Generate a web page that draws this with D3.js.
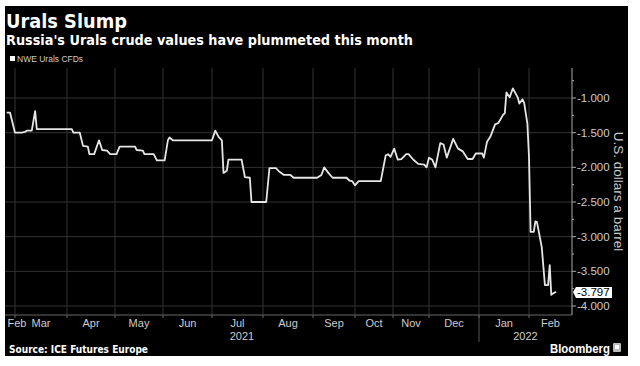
<!DOCTYPE html>
<html><head><meta charset="utf-8">
<script src="https://cdn.jsdelivr.net/npm/d3@7"></script>
<style>body{margin:0;background:#fff} svg{display:block}</style>
</head><body>
<script>
const title = "Urals Slump";
const subtitle = "Russia's Urals crude values have plummeted this month";
const seriesName = "NWE Urals CFDs";
const sourceText = "Source: ICE Futures Europe";
const brand = "Bloomberg";
const yAxisTitle = "U.S. dollars a barrel";

const dates = [
 "2021-02-24","2021-02-26","2021-03-01","2021-03-05","2021-03-07","2021-03-08","2021-03-11","2021-03-13","2021-03-14",
 "2021-04-04","2021-04-05","2021-04-09","2021-04-11","2021-04-14","2021-04-15","2021-04-18","2021-04-21","2021-04-23","2021-04-26","2021-04-28",
 "2021-05-02","2021-05-04","2021-05-14","2021-05-15","2021-05-19","2021-05-20","2021-05-26","2021-05-28",
 "2021-06-02","2021-06-04","2021-06-05","2021-06-07",
 "2021-07-01","2021-07-03","2021-07-05","2021-07-07","2021-07-08","2021-07-10","2021-07-11","2021-07-19","2021-07-21","2021-07-24","2021-07-25",
 "2021-08-03","2021-08-05","2021-08-09","2021-08-11","2021-08-14","2021-08-18","2021-08-20",
 "2021-09-04","2021-09-07","2021-09-09","2021-09-12","2021-09-15","2021-09-25","2021-09-27","2021-09-29",
 "2021-10-01","2021-10-04","2021-10-22","2021-10-26","2021-10-28","2021-10-30",
 "2021-11-02","2021-11-05","2021-11-08","2021-11-12","2021-11-14","2021-11-18","2021-11-22","2021-11-27","2021-11-29",
 "2021-12-01","2021-12-03","2021-12-05","2021-12-08","2021-12-10","2021-12-12","2021-12-16","2021-12-19","2021-12-22","2021-12-25","2021-12-28","2021-12-30",
 "2022-01-03","2022-01-04","2022-01-06","2022-01-08","2022-01-11","2022-01-13","2022-01-16","2022-01-17","2022-01-18","2022-01-20","2022-01-22","2022-01-25","2022-01-26","2022-01-28","2022-01-29","2022-01-31",
 "2022-02-01","2022-02-02","2022-02-04","2022-02-05","2022-02-06","2022-02-09","2022-02-11","2022-02-13","2022-02-14","2022-02-15","2022-02-16","2022-02-18"
];
const values = [
 -1.21,-1.21,-1.50,-1.50,-1.49,-1.47,-1.47,-1.19,-1.45,
 -1.45,-1.50,-1.50,-1.69,-1.70,-1.81,-1.81,-1.61,-1.75,-1.76,-1.81,
 -1.81,-1.70,-1.70,-1.75,-1.76,-1.81,-1.81,-1.90,
 -1.90,-1.61,-1.57,-1.61,
 -1.61,-1.47,-1.56,-1.61,-2.08,-2.05,-1.89,-1.89,-2.14,-2.15,-2.50,
 -2.50,-2.01,-2.01,-2.06,-2.11,-2.11,-2.15,
 -2.15,-2.11,-2.00,-2.08,-2.15,-2.15,-2.19,-2.20,
 -2.26,-2.20,-2.20,-1.83,-1.81,-1.85,
 -1.73,-1.89,-1.88,-1.81,-1.81,-1.89,-1.95,-1.96,-2.00,
 -1.86,-1.89,-2.00,-1.65,-1.67,-1.86,-1.59,-1.73,-1.77,-1.88,-1.88,-1.80,
 -1.80,-1.86,-1.63,-1.56,-1.38,-1.36,-1.24,-1.22,-0.92,-0.99,-0.86,-0.99,-1.08,-1.02,-1.07,-1.37,
 -1.85,-2.93,-2.93,-2.78,-2.79,-3.15,-3.70,-3.70,-3.41,-3.84,-3.82,-3.797
];
const yTicks = [-1.0,-1.5,-2.0,-2.5,-3.0,-3.5,-4.0];
const yMinorTicks = [-0.75,-1.25,-1.75,-2.25,-2.75,-3.25,-3.75];
const monthStarts = ["2021-02-01","2021-03-01","2021-04-01","2021-05-01","2021-06-01","2021-07-01","2021-08-01","2021-09-01","2021-10-01","2021-11-01","2021-12-01","2022-01-01","2022-02-01","2022-03-01"];
const monthLabels = ["Feb","Mar","Apr","May","Jun","Jul","Aug","Sep","Oct","Nov","Dec","Jan","Feb"];
const yearLabels = ["2021","2022"];
const lastLabel = "-3.797";

// axis calibration (time scale breakpoints measured from the chart)
const xDomainStops = ["2021-02-23","2021-03-01","2021-04-01","2021-05-01","2021-06-01","2021-07-01","2021-08-01","2021-09-01","2021-10-01","2021-11-01","2021-12-01","2022-01-01","2022-02-01","2022-02-28"];
const xRangeStops = [5,15,67,115,163,212,263,313,355,393,429,479,529,572];

const W = 640, H = 366;
const svg = d3.select("body").append("svg").attr("width", W).attr("height", H);
svg.append("rect").attr("x",0).attr("y",0).attr("width",W).attr("height",H).attr("fill","#fff");
svg.append("rect").attr("x",5).attr("y",6).attr("width",623).attr("height",350).attr("fill","#000");

const parse = d3.utcParse("%Y-%m-%d");
const x = d3.scaleUtc().domain(xDomainStops.map(parse)).range(xRangeStops);
const plotLeft = 5, plotRight = 572, plotTop = 68, plotBottom = 315;
const y = d3.scaleLinear().domain([-4.13, -0.567]).range([plotBottom, plotTop]);

const sans = "'Liberation Sans Narrow','Arial Narrow','Liberation Sans',sans-serif";
const bold = "'DejaVu Sans','Open Sans',sans-serif";

// titles
svg.append("text").attr("x",6).attr("y",28).text(title)
  .attr("fill","#fff").attr("font-family",bold).attr("font-weight","bold").attr("font-size",20)
  .attr("textLength",121).attr("lengthAdjust","spacingAndGlyphs");
svg.append("text").attr("x",6).attr("y",45).text(subtitle)
  .attr("fill","#fff").attr("font-family",bold).attr("font-weight","bold").attr("font-size",14)
  .attr("textLength",407).attr("lengthAdjust","spacingAndGlyphs");
// legend
svg.append("rect").attr("x",10).attr("y",56).attr("width",5).attr("height",5).attr("fill","#fff");
svg.append("text").attr("x",17).attr("y",62).text(seriesName)
  .attr("fill","#ccc").attr("font-family",sans).attr("font-size",8.5);

// gridlines
const months = monthStarts.map(parse);
const innerMonths = months.filter(d => x(d) > plotLeft + 1 && x(d) < plotRight - 1);
svg.append("g").selectAll("line").data(innerMonths).join("line")
  .attr("x1", d => x(d)).attr("x2", d => x(d)).attr("y1", plotTop).attr("y2", plotBottom)
  .attr("stroke","#333").attr("stroke-width",1);
svg.append("g").selectAll("line").data(yTicks).join("line")
  .attr("x1", plotLeft).attr("x2", plotRight).attr("y1", d => y(d)).attr("y2", d => y(d))
  .attr("stroke","#333").attr("stroke-width",1);

// x axis
svg.append("line").attr("x1",plotLeft).attr("x2",plotRight).attr("y1",plotBottom).attr("y2",plotBottom)
  .attr("stroke","#666");
svg.append("g").selectAll("line").data(innerMonths).join("line")
  .attr("x1", d => x(d)).attr("x2", d => x(d)).attr("y1", plotBottom).attr("y2", plotBottom + 3)
  .attr("stroke","#666");
const dom = x.domain();
const monthIntervals = monthLabels.map((m, i) => {
  const a = Math.max(x(months[i]), x(dom[0]));
  const b = Math.min(x(months[i + 1]), x(dom[dom.length - 1]));
  return {label: m, a, b};
});
svg.append("g").selectAll("text").data(monthIntervals).join("text")
  .attr("x", d => Math.max((d.a + d.b) / 2, plotLeft + 12))
  .attr("y", 327).attr("text-anchor","middle").text(d => d.label)
  .attr("fill","#ccc").attr("font-family",sans).attr("font-size",11);
const yearBreak = parse("2022-01-01");
const yearIntervals = [
  {label: yearLabels[0], a: x(dom[0]), b: x(yearBreak)},
  {label: yearLabels[1], a: x(yearBreak), b: x(dom[dom.length - 1])}
];
svg.append("g").selectAll("text").data(yearIntervals).join("text")
  .attr("x", d => (d.a + d.b) / 2).attr("y", 340).attr("text-anchor","middle").text(d => d.label)
  .attr("fill","#ccc").attr("font-family",sans).attr("font-size",11);
svg.append("line").attr("x1",x(yearBreak)).attr("x2",x(yearBreak)).attr("y1",plotBottom).attr("y2",342)
  .attr("stroke","#555");

// y axis (right)
svg.append("line").attr("x1",plotRight).attr("x2",plotRight).attr("y1",plotTop).attr("y2",plotBottom)
  .attr("stroke","#aaa");
svg.append("g").selectAll("line").data(yTicks).join("line")
  .attr("x1",plotRight).attr("x2",plotRight + 4).attr("y1", d => y(d)).attr("y2", d => y(d))
  .attr("stroke","#aaa");
svg.append("g").selectAll("line").data(yMinorTicks).join("line")
  .attr("x1",plotRight).attr("x2",plotRight + 2).attr("y1", d => y(d)).attr("y2", d => y(d))
  .attr("stroke","#aaa");
svg.append("g").selectAll("text").data(yTicks).join("text")
  .attr("x", plotRight + 5).attr("y", d => y(d) + 4).text(d => d.toFixed(3))
  .attr("fill","#ccc").attr("font-family",sans).attr("font-size",11.5);
svg.append("text").attr("transform",`translate(614,${(plotTop+plotBottom)/2 + 0}) rotate(90)`)
  .attr("text-anchor","middle").text(yAxisTitle)
  .attr("fill","#ccc").attr("font-family","'Liberation Sans',sans-serif").attr("font-size",13.5);

// line
const pts = dates.map((d, i) => ({d: parse(d), v: values[i]}));
svg.append("path").datum(pts)
  .attr("d", d3.line().x(p => x(p.d)).y(p => y(p.v)))
  .attr("fill","none").attr("stroke","#e6e6e6").attr("stroke-width",1.8).attr("stroke-linejoin","round");

// last value label
const ly = y(values[values.length - 1]);
svg.append("path")
  .attr("d", `M${plotRight + 1},${ly} L${plotRight + 4},${ly - 5} L${plotRight + 40},${ly - 5} L${plotRight + 40},${ly + 6} L${plotRight + 4},${ly + 6} Z`)
  .attr("fill","#fff");
svg.append("text").attr("x", plotRight + 5).attr("y", ly + 4).text(lastLabel)
  .attr("fill","#000").attr("font-family",sans).attr("font-size",11.5);

// footer
svg.append("text").attr("x",9).attr("y",353).text(sourceText)
  .attr("fill","#fff").attr("font-family",bold).attr("font-weight","bold").attr("font-size",10)
  .attr("textLength",139).attr("lengthAdjust","spacingAndGlyphs");
svg.append("text").attr("x",550).attr("y",353).text(brand)
  .attr("fill","#fff").attr("font-family","'Liberation Sans',sans-serif").attr("font-weight","bold").attr("font-size",13)
  .attr("textLength",60).attr("lengthAdjust","spacingAndGlyphs");
svg.append("rect").attr("x",613).attr("y",343).attr("width",8).attr("height",9).attr("rx",1).attr("fill","#bbb");
svg.append("rect").attr("x",615).attr("y",345).attr("width",4).attr("height",4).attr("fill","#fff");
</script>
</body></html>
